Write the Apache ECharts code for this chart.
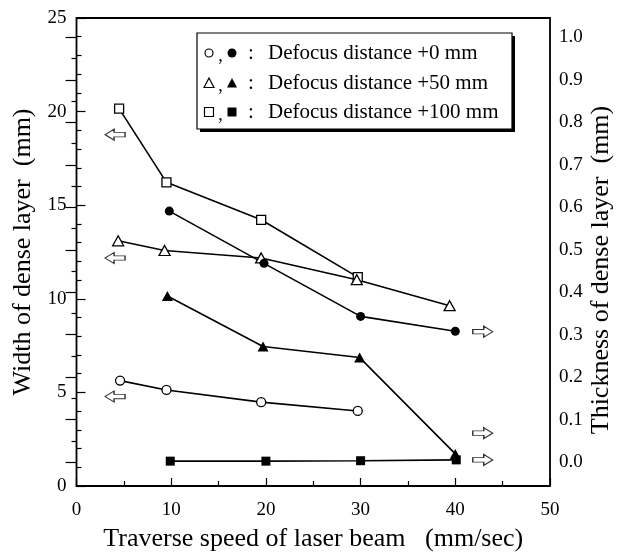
<!DOCTYPE html>
<html><head><meta charset="utf-8">
<script src="https://cdn.jsdelivr.net/npm/echarts@6/dist/echarts.min.js"></script>
<style>html,body{margin:0;padding:0;background:#fff}#c{width:626px;height:552px}</style>
</head><body><div id="c"></div>
<script>
// Width of dense layer (left axis, mm) - open markers
const openCircleX = [4.6, 9.5, 19.5, 29.7];
const openCircleY = [5.63, 5.13, 4.48, 4.01];
const openTriX = [4.4, 9.3, 19.5, 29.6, 39.4];
const openTriY = [13.1, 12.58, 12.18, 11.02, 9.63];
const openSqX = [4.5, 9.5, 19.5, 29.7];
const openSqY = [20.16, 16.22, 14.22, 11.16];
// Thickness of dense layer (right axis, mm) - filled markers
const filledCircleX = [9.8, 19.8, 30.0, 40.0];
const filledCircleY = [0.591, 0.468, 0.343, 0.308];
const filledTriX = [9.6, 19.7, 29.9, 40.0];
const filledTriY = [0.391, 0.272, 0.246, 0.019];
const filledSqX = [9.9, 20.0, 30.0, 40.1];
const filledSqY = [0.002, 0.002, 0.003, 0.005];
// axis-indicator arrows
const leftArrowX = [4.07, 4.07, 4.07];
const leftArrowY = [18.77, 12.18, 4.78];
const rightArrowX = [42.9, 42.9, 42.9];
const rightArrowY = [0.307, 0.068, 0.005];
// legend labels
const legendLabels = ['Defocus distance +0 mm', 'Defocus distance +50 mm', 'Defocus distance +100 mm'];
const xTitle = 'Traverse speed of laser beam   (mm/sec)';
const yLeftTitle = 'Width of dense layer  (mm)';
const yRightTitle = 'Thickness of dense layer  (mm)';

const FF = 'Liberation Serif';
const zip = (a, b) => a.map((v, i) => [v, b[i]]);
const chart = echarts.init(document.getElementById('c'), null, {renderer: 'canvas'});

function lineSeries(xs, ys, symbol, size, filled, right) {
  return {
    type: 'line', data: zip(xs, ys), symbol: symbol, symbolSize: size,
    xAxisIndex: right ? 1 : 0, yAxisIndex: right ? 1 : 0,
    showAllSymbol: true, animation: false,
    lineStyle: {color: '#000', width: 1.6},
    itemStyle: filled ? {color: '#000', borderColor: '#000', borderWidth: 0} : {color: '#fff', borderColor: '#000', borderWidth: 1.3},
    emphasis: {disabled: true}
  };
}
const arrowPath = 'path://M0,3L11,3L11,0L20,5L11,10L11,7L0,7Z';
function arrowSeries(xs, ys, rot, right) {
  return {
    type: 'scatter', data: zip(xs, ys), symbol: arrowPath, symbolSize: [20, 11], symbolRotate: rot,
    xAxisIndex: right ? 1 : 0, yAxisIndex: right ? 1 : 0, animation: false,
    itemStyle: {color: '#fff', borderColor: '#000', borderWidth: 1.1}, emphasis: {disabled: true}
  };
}

const tickLabel = {color: '#000', fontFamily: FF, fontSize: 19};
const legendY = [53, 83, 112];
const lx1 = 209, lx2 = 232;
const graphics = [
  {type: 'rect', shape: {x: 200, y: 36, width: 315, height: 96}, style: {fill: '#000'}, z: 50},
  {type: 'rect', shape: {x: 197, y: 33, width: 315, height: 96}, style: {fill: '#fff', stroke: '#000', lineWidth: 1.2}, z: 51},
  {type: 'circle', shape: {cx: lx1, cy: legendY[0], r: 4}, style: {fill: '#fff', stroke: '#000', lineWidth: 1.2}, z: 52},
  {type: 'circle', shape: {cx: lx2, cy: legendY[0], r: 4.5}, style: {fill: '#000'}, z: 52},
  {type: 'polygon', shape: {points: [[lx1 - 5, legendY[1] + 4.5], [lx1 + 5, legendY[1] + 4.5], [lx1, legendY[1] - 5]]}, style: {fill: '#fff', stroke: '#000', lineWidth: 1.2}, z: 52},
  {type: 'polygon', shape: {points: [[lx2 - 5, legendY[1] + 4.5], [lx2 + 5, legendY[1] + 4.5], [lx2, legendY[1] - 5]]}, style: {fill: '#000'}, z: 52},
  {type: 'rect', shape: {x: lx1 - 4.5, y: legendY[2] - 4.5, width: 9, height: 9}, style: {fill: '#fff', stroke: '#000', lineWidth: 1.2}, z: 52},
  {type: 'rect', shape: {x: lx2 - 4.5, y: legendY[2] - 4.5, width: 9, height: 9}, style: {fill: '#000'}, z: 52},
  {type: 'text', rotation: Math.PI / 2, x: 601, y: 270, style: {text: yRightTitle, fill: '#000', font: '26px "' + FF + '"', textAlign: 'center', textVerticalAlign: 'middle'}, z: 52}
];
legendLabels.forEach((t, i) => {
  graphics.push({type: 'text', x: (lx1 + lx2) / 2, y: legendY[i] + 3, style: {text: ',', fill: '#000', font: '18px "' + FF + '"', textAlign: 'center', textVerticalAlign: 'middle'}, z: 52});
  graphics.push({type: 'text', x: 251, y: legendY[i], style: {text: ':', fill: '#000', font: '21px "' + FF + '"', textAlign: 'center', textVerticalAlign: 'middle'}, z: 52});
  graphics.push({type: 'text', x: 268, y: legendY[i], style: {text: t, fill: '#000', font: '21px "' + FF + '"', textAlign: 'left', textVerticalAlign: 'middle'}, z: 52});
});

chart.setOption({
  backgroundColor: '#fff',
  animation: false,
  grid: [
    {left: 76.5, right: 76, top: 18, bottom: 66, show: true, borderColor: '#000', borderWidth: 1.8, backgroundColor: 'transparent', containLabel: false, outerBoundsMode: 'none'},
    {left: 76.5, right: 76, top: 37.5, bottom: 90, show: false, containLabel: false, outerBoundsMode: 'none'}
  ],
  xAxis: [
    {type: 'value', gridIndex: 0, min: 0, max: 50, interval: 10,
     axisLine: {show: false}, splitLine: {show: false},
     axisTick: {show: true, inside: true, length: 8, lineStyle: {color: '#000', width: 1.2}},
     minorTick: {show: true, splitNumber: 2, length: 5, lineStyle: {color: '#000', width: 1.2}},
     axisLabel: Object.assign({margin: 15}, tickLabel),
     name: xTitle, nameLocation: 'middle', nameGap: 40,
     nameTextStyle: {color: '#000', fontFamily: FF, fontSize: 26}},
    {type: 'value', gridIndex: 1, min: 0, max: 50, show: false}
  ],
  yAxis: [
    {type: 'value', gridIndex: 0, min: 0, max: 25, interval: 5, position: 'left',
     axisLine: {show: false}, splitLine: {show: false},
     axisTick: {show: true, inside: true, length: 9, lineStyle: {color: '#000', width: 1.2}},
     minorTick: {show: true, splitNumber: 5, length: 5, lineStyle: {color: '#000', width: 1.2}},
     axisLabel: Object.assign({margin: 10, padding: [5, 0, 0, 0]}, tickLabel),
     name: yLeftTitle, nameLocation: 'middle', nameGap: 32, nameRotate: 90,
     nameTextStyle: {color: '#000', fontFamily: FF, fontSize: 26}},
    {type: 'value', gridIndex: 1, min: 0, max: 1, interval: 0.1, position: 'right',
     axisLine: {show: false}, splitLine: {show: false},
     axisTick: {show: true, inside: true, length: 11, lineStyle: {color: '#000', width: 1.2}},
     minorTick: {show: true, splitNumber: 2, length: 5, lineStyle: {color: '#000', width: 1.2}},
     axisLabel: Object.assign({margin: 9, padding: [4, 0, 0, 0], formatter: v => v.toFixed(1)}, tickLabel)}
  ],
  graphic: graphics,
  series: [
    lineSeries(openSqX, openSqY, 'rect', 9, false, false),
    lineSeries(openTriX, openTriY, 'triangle', [11, 10], false, false),
    lineSeries(openCircleX, openCircleY, 'circle', 9, false, false),
    lineSeries(filledCircleX, filledCircleY, 'circle', 9, true, true),
    lineSeries(filledTriX, filledTriY, 'triangle', [11, 10], true, true),
    lineSeries(filledSqX, filledSqY, 'rect', 9, true, true),
    arrowSeries(leftArrowX, leftArrowY, 180, false),
    arrowSeries(rightArrowX, rightArrowY, 0, true)
  ]
});
</script></body></html>
